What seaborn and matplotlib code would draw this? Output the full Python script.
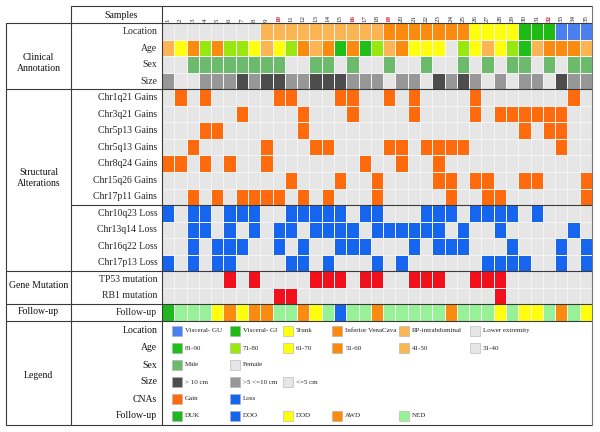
import pandas as pd
import seaborn as sns
import matplotlib.pyplot as plt
from matplotlib.colors import ListedColormap
from matplotlib.patches import Rectangle

sns.set_style('white')
plt.rcParams['font.family'] = ['Liberation Serif', 'DejaVu Serif']

# ## Data
samples = ['1', '2', '3', '4', '5', '6', '7', '8', '9', '10', '11', '12', '13', '14', '15', '16', '17', '18',
           '19', '20', '21', '22', '23', '24', '25', '26', '27', '28', '29', '30', '31', '32', '33', '34', '35']
red_samples = ['10', '16', '19', '32']

GU, GI, TR, IVC, RP, LE = 'Visceral- GU', 'Visceral- GI', 'Trunk', 'Inferior VenaCava', 'RP-intrabdominal', 'Lower extremity'
location = [LE, LE, LE, LE, LE, LE, LE, LE, RP, RP, RP, RP, RP, RP, RP, RP, RP, RP,
            IVC, IVC, IVC, IVC, IVC, IVC, IVC, TR, TR, TR, TR, GI, GI, GI, GU, GU, GU]
age = ['41-50', '61-70', '51-60', '71-80', '51-60', '71-80', '71-80', '61-70', '41-50', '61-70', '71-80', '51-60',
       '41-50', '51-60', '81-90', '51-60', '81-90', '71-80', '41-50', '51-60', '61-70', '61-70', '61-70', '31-40',
       '71-80', '61-70', '41-50', '61-70', '71-80', '81-90', '41-50', '51-60', '51-60', '51-60', '41-50']
sex = ['Female', 'Female', 'Male', 'Male', 'Male', 'Male', 'Male', 'Male', 'Male', 'Male', 'Female', 'Female',
       'Male', 'Male', 'Female', 'Male', 'Female', 'Female', 'Male', 'Female', 'Female', 'Male', 'Female', 'Female',
       'Male', 'Female', 'Male', 'Female', 'Male', 'Male', 'Female', 'Male', 'Female', 'Male', 'Male']
BIG, MID, SMALL = '> 10 cm', '>5 <=10 cm', '<=5 cm'
size = [MID, SMALL, SMALL, MID, MID, MID, BIG, MID, BIG, BIG, MID, MID, BIG, BIG, BIG, MID, MID, MID,
        SMALL, MID, MID, SMALL, BIG, MID, BIG, MID, SMALL, MID, SMALL, MID, MID, SMALL, BIG, MID, MID]

# samples carrying each alteration
chr1q21_gain = [2, 4, 10, 11, 15, 16, 19, 21, 26, 34]
chr3q21_gain = [7, 12, 16, 21, 26, 28, 29, 30, 31, 32, 33]
chr5p13_gain = [4, 5, 12, 30, 32, 33]
chr5q13_gain = [3, 9, 13, 14, 19, 20, 22, 23, 24, 25, 33]
chr8q24_gain = [1, 2, 4, 6, 9, 17, 20, 23]
chr15q26_gain = [11, 15, 18, 23, 24, 26, 27, 30, 31, 35]
chr17p11_gain = [3, 5, 7, 8, 9, 10, 12, 14, 18, 24, 27, 28, 35]
chr10q23_loss = [1, 3, 4, 6, 7, 8, 11, 12, 13, 14, 15, 17, 18, 22, 23, 24, 26, 27, 28, 29, 31]
chr13q14_loss = [3, 4, 6, 8, 10, 11, 13, 14, 15, 16, 18, 19, 20, 21, 22, 23, 25, 28, 34]
chr16q22_loss = [3, 5, 6, 7, 10, 12, 15, 16, 17, 21, 23, 24, 25, 29, 33, 35]
chr17p13_loss = [1, 3, 5, 6, 11, 12, 14, 18, 20, 27, 28, 29, 30, 33, 35]
tp53_mut = [6, 8, 13, 14, 15, 17, 18, 21, 22, 23, 26, 27, 28]
rb1_mut = [10, 11, 28]

follow_up = ['DUK', 'NED', 'NED', 'NED', 'DOD', 'AWD', 'DOD', 'AWD', 'AWD', 'NED', 'NED', 'AWD', 'DOD', 'NED',
             'DOO', 'NED', 'NED', 'AWD', 'NED', 'NED', 'NED', 'NED', 'NED', 'AWD', 'NED', 'NED', 'NED', 'DOD',
             'NED', 'DOD', 'DOD', 'NED', 'AWD', 'NED', 'DOD']

# ## Colours
bg = '#E6E6E6'
orange, lorange, yellow = '#FA8B0E', '#FBB552', '#FFFF0D'
location_colors = {GU: '#4B7FEF', GI: '#1FBA14', TR: yellow, IVC: orange, RP: lorange, LE: bg}
age_colors = {'81-90': '#20BE18', '71-80': '#98E80F', '61-70': yellow, '51-60': orange, '41-50': lorange, '31-40': bg}
sex_colors = {'Male': '#6CBB6C', 'Female': bg}
size_colors = {BIG: '#4D4D4D', MID: '#979797', SMALL: bg}
cna_colors = {'Gain': '#FF6A0C', 'Loss': '#1565EF'}
mut_color = '#F2101C'
follow_colors = {'DUK': '#22B722', 'DOO': '#1565EF', 'DOD': yellow, 'AWD': orange, 'NED': '#97F197'}


def hits(lst, col):
    return [col if int(s) in lst else bg for s in samples]


rows = [
    ('Location', [location_colors[v] for v in location]),
    ('Age', [age_colors[v] for v in age]),
    ('Sex', [sex_colors[v] for v in sex]),
    ('Size', [size_colors[v] for v in size]),
    ('Chr1q21 Gains', hits(chr1q21_gain, cna_colors['Gain'])),
    ('Chr3q21 Gains', hits(chr3q21_gain, cna_colors['Gain'])),
    ('Chr5p13 Gains', hits(chr5p13_gain, cna_colors['Gain'])),
    ('Chr5q13 Gains', hits(chr5q13_gain, cna_colors['Gain'])),
    ('Chr8q24 Gains', hits(chr8q24_gain, cna_colors['Gain'])),
    ('Chr15q26 Gains', hits(chr15q26_gain, cna_colors['Gain'])),
    ('Chr17p11 Gains', hits(chr17p11_gain, cna_colors['Gain'])),
    ('Chr10q23 Loss', hits(chr10q23_loss, cna_colors['Loss'])),
    ('Chr13q14 Loss', hits(chr13q14_loss, cna_colors['Loss'])),
    ('Chr16q22 Loss', hits(chr16q22_loss, cna_colors['Loss'])),
    ('Chr17p13 Loss', hits(chr17p13_loss, cna_colors['Loss'])),
    ('TP53 mutation', hits(tp53_mut, mut_color)),
    ('RB1 mutation', hits(rb1_mut, mut_color)),
    ('Follow-up', [follow_colors[v] for v in follow_up]),
]
row_labels = [r[0] for r in rows]
palette = []
for _, cols in rows:
    for c in cols:
        if c not in palette:
            palette.append(c)
codes = pd.DataFrame([[palette.index(c) for c in cols] for _, cols in rows],
                     index=row_labels, columns=samples)

# ## Figure (pixel layout 600 x 432)
W, H = 600, 432
X0, X1, Y0, Y1 = 162, 592, 23.3, 320.7
fig = plt.figure(figsize=(6, 4.32), dpi=100)
ax = fig.add_axes([X0 / W, 1 - Y1 / H, (X1 - X0) / W, (Y1 - Y0) / H])
sns.heatmap(codes, cmap=ListedColormap(palette), vmin=-0.5, vmax=len(palette) - 0.5, cbar=False,
            linewidths=0.5, linecolor='#F4F4F4', ax=ax, xticklabels=samples, yticklabels=row_labels)
ax.xaxis.tick_top()
ax.set_xticklabels(samples, rotation=90, fontsize=5)
ax.set_yticklabels(row_labels, rotation=0, fontsize=7)
ax.tick_params(axis='x', length=0, pad=1)
ax.tick_params(axis='y', length=0, pad=3.4)
for t in ax.get_xticklabels():
    if t.get_text() in red_samples:
        t.set_color('#D0102A')
        t.set_fontweight('bold')
ax.set_xlabel('')
ax.set_ylabel('')

# overlay for the table frame and legend
ov = fig.add_axes([0, 0, 1, 1], zorder=5)
ov.set_xlim(0, W)
ov.set_ylim(H, 0)
ov.axis('off')
ov.patch.set_alpha(0)

lc, lw = '#3A3A3A', 0.8
ov.plot([71, X1], [6, 6], color=lc, lw=lw)
for y in [Y0, 89.4, 271, 304, Y1, 425]:
    ov.plot([6, X1], [y, y], color=lc, lw=lw)
ov.plot([71, X1], [205, 205], color=lc, lw=lw)
ov.plot([6, 6], [Y0, 425], color=lc, lw=lw)
ov.plot([71, 71], [6, 425], color=lc, lw=lw)
ov.plot([X0, X0], [6, 425], color=lc, lw=lw)
ov.plot([X1, X1], [6, 425], color='#777777', lw=lw)

tk = dict(fontsize=7, color='#111111')
ov.text(121, 15, 'Samples', ha='center', va='center', **tk)
ov.text(38.5, 63, 'Clinical\nAnnotation', ha='center', va='center', **tk)
ov.text(38.5, 178, 'Structural\nAlterations', ha='center', va='center', **tk)
ov.text(38.5, 286, 'Gene Mutation', ha='center', va='center', **tk)
ov.text(38.5, 312, 'Follow-up', ha='center', va='center', **tk)
ov.text(38.5, 375, 'Legend', ha='center', va='center', **tk)

legend_rows = [
    ('Location', location_colors, 330.7),
    ('Age', age_colors, 348),
    ('Sex', sex_colors, 365),
    ('Size', size_colors, 382),
    ('CNAs', cna_colors, 399),
    ('Follow-up', follow_colors, 415.5),
]
key_x = [171.7, 230, 282.7, 332.3, 399, 470]
for name, cmap_d, yc in legend_rows:
    ov.text(157.3, yc, name, ha='right', va='center', **tk)
    for xk, (lab, col) in zip(key_x, cmap_d.items()):
        ov.add_patch(Rectangle((xk, yc - 5), 10, 10, facecolor=col, edgecolor='#B0B0B0', lw=0.4))
        ov.text(xk + 13, yc, lab, ha='left', va='center', fontsize=5, color='#222222')

fig.savefig('out.png', dpi=100)
